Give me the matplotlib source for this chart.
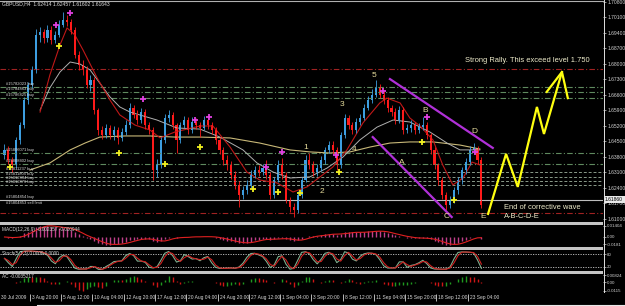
import matplotlib.pyplot as plt
import matplotlib as mpl
import numpy as np
import pandas as pd
from matplotlib.lines import Line2D
from matplotlib.patches import Rectangle

mpl.rcParams.update({'font.family': ['Liberation Sans', 'DejaVu Sans'],
                     'axes.unicode_minus': False})

W, H = 625, 306

# ---------------- data (1 candle = 2 H4 bars) ----------------
first_open = 1.6390
closes = [1.6412, 1.6366, 1.6344, 1.6457, 1.6524, 1.6637, 1.6705, 1.6773, 1.6931, 1.6944,
          1.6917, 1.6954, 1.6908, 1.6931, 1.6976, 1.6999, 1.6990, 1.6954, 1.6841, 1.6795,
          1.6773, 1.6705, 1.6728, 1.6592, 1.6502, 1.6479, 1.6511, 1.6479, 1.6502, 1.6466,
          1.6493, 1.6524, 1.6601, 1.6570, 1.6547, 1.6583, 1.6524, 1.6502, 1.6321, 1.6344,
          1.6457, 1.6556, 1.6570, 1.6524, 1.6457, 1.6524, 1.6547, 1.6502, 1.6538, 1.6524,
          1.6511, 1.6547, 1.6524, 1.6502, 1.6457, 1.6412, 1.6366, 1.6344, 1.6299, 1.6254,
          1.6208, 1.6231, 1.6254, 1.6299, 1.6321, 1.6312, 1.6330, 1.6299, 1.6208, 1.6276,
          1.6344, 1.6299, 1.6186, 1.6154, 1.6141, 1.6208, 1.6276, 1.6366, 1.6344, 1.6312,
          1.6330, 1.6366, 1.6412, 1.6434, 1.6412, 1.6344, 1.6479, 1.6556, 1.6524, 1.6502,
          1.6538, 1.6556, 1.6601, 1.6637, 1.6660, 1.6692, 1.6660, 1.6637, 1.6601, 1.6583,
          1.6547, 1.6592, 1.6502, 1.6511, 1.6524, 1.6502, 1.6515, 1.6524, 1.6479, 1.6412,
          1.6344, 1.6276, 1.6208, 1.6163, 1.6186, 1.6231, 1.6276, 1.6321, 1.6357, 1.6412,
          1.6421, 1.6366, 1.6163]
highs = [1.6440, 1.6430, 1.6380, 1.6470, 1.6540, 1.6650, 1.6720, 1.6790, 1.6960, 1.6965,
         1.6960, 1.6975, 1.6970, 1.6950, 1.7000, 1.7035, 1.7020, 1.7005, 1.6965, 1.6860,
         1.6820, 1.6790, 1.6750, 1.6740, 1.6600, 1.6520, 1.6530, 1.6525, 1.6520, 1.6515,
         1.6510, 1.6545, 1.6625, 1.6615, 1.6590, 1.6600, 1.6595, 1.6540, 1.6515, 1.6370,
         1.6470, 1.6575, 1.6590, 1.6585, 1.6535, 1.6540, 1.6565, 1.6560, 1.6560, 1.6555,
         1.6540, 1.6565, 1.6565, 1.6540, 1.6515, 1.6470, 1.6425, 1.6390, 1.6360, 1.6315,
         1.6270, 1.6250, 1.6275, 1.6320, 1.6340, 1.6345, 1.6350, 1.6366, 1.6310, 1.6290,
         1.6366, 1.6375, 1.6310, 1.6200, 1.6170, 1.6225, 1.6290, 1.6390, 1.6400, 1.6360,
         1.6350, 1.6385, 1.6425, 1.6450, 1.6450, 1.6425, 1.6495, 1.6575, 1.6570, 1.6540,
         1.6555, 1.6575, 1.6620, 1.6655, 1.6685, 1.6728, 1.6710, 1.6680, 1.6650, 1.6615,
         1.6600, 1.6610, 1.6605, 1.6530, 1.6545, 1.6540, 1.6535, 1.6560, 1.6540, 1.6490,
         1.6425, 1.6355, 1.6290, 1.6220, 1.6205, 1.6245, 1.6290, 1.6335, 1.6375, 1.6430,
         1.6444, 1.6430, 1.6380]
lows = [1.6370, 1.6350, 1.6312, 1.6330, 1.6440, 1.6510, 1.6620, 1.6690, 1.6760, 1.6900,
        1.6895, 1.6900, 1.6890, 1.6895, 1.6920, 1.6965, 1.6970, 1.6935, 1.6825, 1.6775,
        1.6750, 1.6690, 1.6680, 1.6575, 1.6480, 1.6460, 1.6465, 1.6460, 1.6455, 1.6440,
        1.6450, 1.6480, 1.6510, 1.6555, 1.6530, 1.6535, 1.6505, 1.6485, 1.6276, 1.6290,
        1.6330, 1.6445, 1.6540, 1.6505, 1.6398, 1.6445, 1.6510, 1.6485, 1.6490, 1.6505,
        1.6470, 1.6500, 1.6505, 1.6485, 1.6440, 1.6395, 1.6345, 1.6320, 1.6280, 1.6235,
        1.6154, 1.6190, 1.6215, 1.6240, 1.6285, 1.6295, 1.6300, 1.6280, 1.6190, 1.6195,
        1.6265, 1.6280, 1.6170, 1.6130, 1.6109, 1.6125, 1.6195, 1.6265, 1.6325, 1.6295,
        1.6295, 1.6315, 1.6350, 1.6400, 1.6395, 1.6321, 1.6330, 1.6465, 1.6505, 1.6485,
        1.6490, 1.6525, 1.6545, 1.6590, 1.6625, 1.6650, 1.6645, 1.6620, 1.6585, 1.6565,
        1.6530, 1.6535, 1.6485, 1.6490, 1.6495, 1.6485, 1.6490, 1.6500, 1.6460, 1.6395,
        1.6325, 1.6255, 1.6190, 1.6141, 1.6150, 1.6170, 1.6215, 1.6260, 1.6305, 1.6345,
        1.6395, 1.6350, 1.6150]

# moving averages (bar index, price)
red_ma_x = [9.1, 11.6, 14.2, 16.0, 18.0, 20.1, 23.7, 27.0, 29.5, 33.4, 37.2, 39.8, 43.6, 50.0,
            53.3, 57.7, 62.0, 65.3, 69.7, 73.8, 77.4, 80.7, 84.0, 87.6, 91.7, 96.0, 97.8,
            101.2, 103.7, 106.3, 109.6, 112.1, 114.7, 117.3, 119.6, 121.6]
red_ma_y = [1.6583, 1.6750, 1.6886, 1.6963, 1.6931, 1.6863, 1.6737, 1.6637, 1.6570, 1.6524,
            1.6502, 1.6466, 1.6493, 1.6520, 1.6520, 1.6425, 1.6312, 1.6276, 1.6263, 1.6222,
            1.6245, 1.6290, 1.6335, 1.6412, 1.6534, 1.6624, 1.6646, 1.6624, 1.6556, 1.6520,
            1.6457, 1.6344, 1.6254, 1.6285, 1.6357, 1.6344]
gray_ma_x = [9.1, 11.6, 14.2, 16.8, 19.3, 21.9, 27.0, 29.5, 32.1, 39.0, 44.1, 50.0, 55.1, 61.0,
             64.6, 68.7, 73.0, 78.1, 82.5, 86.6, 90.9, 95.3, 99.4, 103.7, 108.8, 113.2, 116.5,
             121.6]
gray_ma_y = [1.6592, 1.6692, 1.6764, 1.6809, 1.6800, 1.6773, 1.6651, 1.6606, 1.6583, 1.6547,
             1.6511, 1.6506, 1.6470, 1.6412, 1.6353, 1.6312, 1.6285, 1.6290, 1.6330, 1.6380,
             1.6457, 1.6515, 1.6547, 1.6538, 1.6493, 1.6443, 1.6412, 1.6412]
tan_ma_x = [6.5, 11.6, 16.8, 20.6, 24.4, 30.8, 37.2, 43.6, 50.0, 57.7, 65.3, 73.0, 78.1, 83.2,
            88.4, 93.5, 98.6, 103.7, 109.6, 116.5, 121.6]
tan_ma_y = [1.6321, 1.6353, 1.6412, 1.6443, 1.6470, 1.6475, 1.6475, 1.6470, 1.6470, 1.6466,
            1.6443, 1.6412, 1.6403, 1.6398, 1.6403, 1.6425, 1.6443, 1.6448, 1.6448, 1.6434,
            1.6416]

# fractal arrows
up_frac_x = [13.2, 16.8, 35.4, 48.7, 52.3, 66.9, 71.0, 84.8, 96.8, 108.1, 120.3]
up_frac_y = [1.6976, 1.7030, 1.6642, 1.6547, 1.6561, 1.6335, 1.6403, 1.6389, 1.6678, 1.6561, 1.6403]
dn_frac_x = [1.4, 13.9, 29.3, 41.0, 50.0, 63.6, 69.9, 75.6, 85.5, 106.8, 115.0]
dn_frac_y = [1.6335, 1.6881, 1.6398, 1.6348, 1.6425, 1.6235, 1.6222, 1.6217, 1.6312, 1.6448, 1.6186]

# Elliott wave labels
wave_names = ['1', '2', '3', '4', '5', 'A', 'B', 'C', 'D', 'E']
wave_x = [77.1, 81.2, 86.3, 89.4, 94.5, 101.7, 107.5, 113.2, 120.1, 122.4]
wave_y = [1.6425, 1.6226, 1.6615, 1.6416, 1.6750, 1.6357, 1.6592, 1.6109, 1.6493, 1.6109]

# channel lines and forecast zigzag
chan_top_x, chan_top_y = [98.6, 124.9], [1.6732, 1.6421]
chan_bot_x, chan_bot_y = [94.2, 114.4], [1.6470, 1.6109]
zig_x = [123.7, 128.3, 131.3, 136.2, 138.0, 142.6]
zig_y = [1.6123, 1.6394, 1.6245, 1.6606, 1.6484, 1.6764]
head_x = [138.7, 142.6, 144.1]
head_y = [1.6674, 1.6764, 1.6646]

# order / level lines
red_levels = [1.6777, 1.6127]
green_levels = [1.6696, 1.6673, 1.6646, 1.6398, 1.6348]
gray_levels = [1.6312, 1.6290, 1.6272, 1.6254]
bid_price = 1.6186
order_labels = ['#15782023 buy', '#15784863 buy', '#15786825 buy', '#15806071 buy',
                '#15808402 buy', '#15811237 buy', '#15811805 buy', '#15812394 buy',
                '#15812876 buy']
order_prices = green_levels + gray_levels

price_ticks = [1.7080, 1.7010, 1.6940, 1.6870, 1.6800, 1.6730, 1.6660, 1.6590, 1.6520,
               1.6450, 1.6380, 1.6310, 1.6240, 1.6170, 1.6100]

time_tick_x = [-1.5, 6.5, 14.5, 22.5, 30.5, 38.5, 46.5, 54.5, 62.5, 70.5, 78.5, 86.5, 94.5,
               102.5, 110.5, 118.5]
time_labels = ['30 Jul 2009', '3 Aug 20:00', '5 Aug 12:00', '10 Aug 04:00', '12 Aug 20:00',
               '17 Aug 12:00', '20 Aug 04:00', '24 Aug 20:00', '27 Aug 12:00', '1 Sep 04:00',
               '3 Sep 20:00', '8 Sep 12:00', '11 Sep 04:00', '15 Sep 20:00', '18 Sep 12:00',
               '23 Sep 04:00']

macd_labels = ['0.01404', '0.00', '-0.0181']
stoch_levels = [80, 20]
ac_labels = ['0.00824', '0.00', '-0.0115']

# ---------------- figure ----------------
X_LO, X_HI = -1.15, 153.1
fig = plt.figure(figsize=(W / 100, H / 100), dpi=100, facecolor='black')


def px_axes(x0, y0, x1, y1, lsize=3.6):
    ax = fig.add_axes([x0 / W, 1 - y1 / H, (x1 - x0) / W, (y1 - y0) / H])
    ax.set_facecolor('black')
    for s in ax.spines.values():
        s.set_visible(False)
    ax.set_xlim(X_LO, X_HI)
    ax.set_xticks([])
    ax.yaxis.tick_right()
    ax.tick_params(axis='y', colors='#d0d0d0', labelsize=lsize, length=2, width=0.5, pad=1)
    return ax


def fig_text(x, y, s, **kw):
    fig.text(x / W, 1 - y / H, s, **kw)


# main price chart
ax = px_axes(0, 0, 603, 222)
ax.set_ylim(1.60864, 1.7089)
ax.set_yticks(price_ticks)
ax.set_yticklabels([f'{v:.5f}' for v in price_ticks])

for lv in red_levels:
    ax.axhline(lv, color='#a02222', lw=0.8, ls=(0, (5, 2, 1, 2)))
for lv in green_levels:
    ax.axhline(lv, color='#5f8a5f', lw=0.8, ls=(0, (5, 2, 1, 2)))
for lv in gray_levels:
    ax.axhline(lv, color='#8a9a8a', lw=0.7, ls=(0, (3, 2)))
ax.axhline(bid_price, color='#bdbdbd', lw=0.8)

for s, p in zip(order_labels, order_prices):
    ax.text(0.3, p + 0.0003, s, color='#d8d8d8', fontsize=3.0, va='bottom', ha='left')
ax.text(0.3, bid_price + 0.0003, '#15804854 buy', color='#d8d8d8', fontsize=3.0, va='bottom')
ax.text(0.3, bid_price - 0.0003, '#15804853 sell limit', color='#d8d8d8', fontsize=3.0, va='top')

# moving averages
ax.plot(tan_ma_x, tan_ma_y, color='#c8b878', lw=0.8)
ax.plot(gray_ma_x, gray_ma_y, color='#b0b0b0', lw=0.7)
ax.plot(red_ma_x, red_ma_y, color='#c01818', lw=0.8)

# candles
o = np.array([first_open] + closes[:-1])
c = np.array(closes)
idx = np.arange(len(c))
cols = np.where(c >= o, '#3d9ee0', '#ff1a1a')
ax.vlines(idx, lows, highs, colors=cols, lw=0.6)
ax.bar(idx, np.maximum(np.abs(c - o), 0.0004), bottom=np.minimum(o, c), width=0.55, color=cols)

# fractals
ax.scatter(up_frac_x, up_frac_y, marker='+', s=18, linewidths=1.3, color='#e040e0', zorder=4)
ax.scatter(dn_frac_x, dn_frac_y, marker='+', s=18, linewidths=1.3, color='#f0f020', zorder=4)

# channel + wave labels
ax.plot(chan_top_x, chan_top_y, color='#b030d8', lw=1.6)
ax.plot(chan_bot_x, chan_bot_y, color='#b030d8', lw=1.6)
for n, x, y in zip(wave_names, wave_x, wave_y):
    ax.text(x, y, n, color='#e6dc9c', fontsize=6, ha='center', va='center')

# forecast arrow
ax.plot(zig_x, zig_y, color='#ffff10', lw=1.6, solid_joinstyle='miter')
ax.plot(head_x, head_y, color='#ffff10', lw=1.6)
ax.text(117.8, 1.6814, 'Strong Rally. This exceed level 1.750', color='#efeccb',
        fontsize=5.4, ha='left', va='center')
ax.text(127.7, 1.6152, 'End of corrective wave', color='#efeccb', fontsize=5.4, ha='left', va='center')
ax.text(127.7, 1.6111, 'A-B-C-D-E', color='#efeccb', fontsize=5.4, ha='left', va='center')

fig_text(2, 4, 'GBPUSD,H4  1.62414 1.62457 1.61602 1.61643', color='#e0e0e0', fontsize=3.6, va='center')

# ---------------- indicators ----------------
cs, hs, ls_ = pd.Series(closes), pd.Series(highs), pd.Series(lows)

# MACD
macd = cs.ewm(span=6, adjust=False).mean() - cs.ewm(span=13, adjust=False).mean()
signal = macd.rolling(4, min_periods=1).mean()
axm = px_axes(0, 225, 603, 247, lsize=3.2)
amp = macd.abs().max() * 1.05
axm.set_ylim(-amp * 10 / 12, amp)
axm.vlines(idx, 0, macd, colors='#c0408a', lw=1.0)
axm.plot(idx, signal, color='#e02020', lw=0.8)
axm.set_yticks([amp * 0.92, 0, -amp * 0.62])
axm.set_yticklabels(macd_labels)
fig_text(2, 229, 'MACD(12,26,9) -0.002357 -0.000944', color='#d8d8d8', fontsize=3.4, va='center')

# Stochastic
low_n = ls_.rolling(3, min_periods=1).min()
high_n = hs.rolling(3, min_periods=1).max()
k = ((cs - low_n) / (high_n - low_n) * 100).rolling(2, min_periods=1).mean()
d = k.rolling(2, min_periods=1).mean()
axs = px_axes(0, 250, 603, 271, lsize=3.2)
axs.set_ylim(0, 100)
for lv in stoch_levels:
    axs.axhline(lv, color='#c8c8c8', lw=0.6, ls=(0, (1.5, 1.5)))
axs.plot(idx, k, color='#7fae8f', lw=0.8)
axs.plot(idx, d, color='#d02020', lw=0.8)
axs.set_yticks(stoch_levels)
axs.set_yticklabels([str(v) for v in stoch_levels])
fig_text(2, 254, 'Stoch(5,3,3) 0.0000 0.0000', color='#d8d8d8', fontsize=3.4, va='center')

# Accelerator oscillator
median = (hs + ls_) / 2
ao = median.rolling(3, min_periods=1).mean() - median.rolling(17, min_periods=1).mean()
acv = ao - ao.rolling(3, min_periods=1).mean()
axa = px_axes(0, 274, 603, 292, lsize=3.2)
amp_a = acv.abs().max() * 1.05
axa.set_ylim(-amp_a * 1.1, amp_a * 0.9)
ac_cols = np.where(acv.diff().fillna(0) >= 0, '#1f9a1f', '#d01515')
axa.vlines(idx, 0, acv, colors=ac_cols, lw=1.0)
axa.set_yticks([amp_a * 0.75, 0, -amp_a * 0.95])
axa.set_yticklabels(ac_labels)
fig_text(2, 277, 'AC -0.0035217', color='#d8d8d8', fontsize=3.4, va='center')

# time axis: small tick bar followed by the label
xtr = axa.get_xaxis_transform()
axa.vlines(time_tick_x[1:], -0.1, -0.5, transform=xtr, colors='#d8d8d8', lw=0.6, clip_on=False)
for tx, lab in zip(time_tick_x, time_labels):
    axa.text(tx + 0.5, -0.32, lab, transform=xtr, color='#d8d8d8', fontsize=3.5,
             ha='left', va='center', clip_on=False)

# frame pieces: separators, right border, top border
for y0 in (222, 247, 271):
    fig.add_artist(Rectangle((0, 1 - (y0 + 2.5) / H), 603 / W, 2.5 / H,
                             transform=fig.transFigure, color='#c4c4c4', lw=0))
fig.add_artist(Line2D([603.5 / W, 603.5 / W], [1, 1 - 292 / H], transform=fig.transFigure,
                      color='#e0e0e0', lw=0.7))
fig.add_artist(Line2D([0, 603 / W], [1 - 0.5 / H, 1 - 0.5 / H], transform=fig.transFigure,
                      color='#b0b0b0', lw=0.8))
fig.add_artist(Line2D([37 / W, 1], [1 - 305 / H, 1 - 305 / H], transform=fig.transFigure,
                      color='#e8e8e8', lw=0.8))

# bid price box on the price scale
bid_y = (1.7089 - bid_price) / (1.7089 - 1.60864) * 222
fig.add_artist(Rectangle((603.5 / W, 1 - (bid_y + 3.5) / H), 21.5 / W, 7 / H,
                         transform=fig.transFigure, color='#e8e8e8', lw=0))
fig_text(605, bid_y, f'{bid_price:.5f}', color='black', fontsize=3.6, va='center')

fig.savefig('out.png', dpi=100, facecolor='black')
